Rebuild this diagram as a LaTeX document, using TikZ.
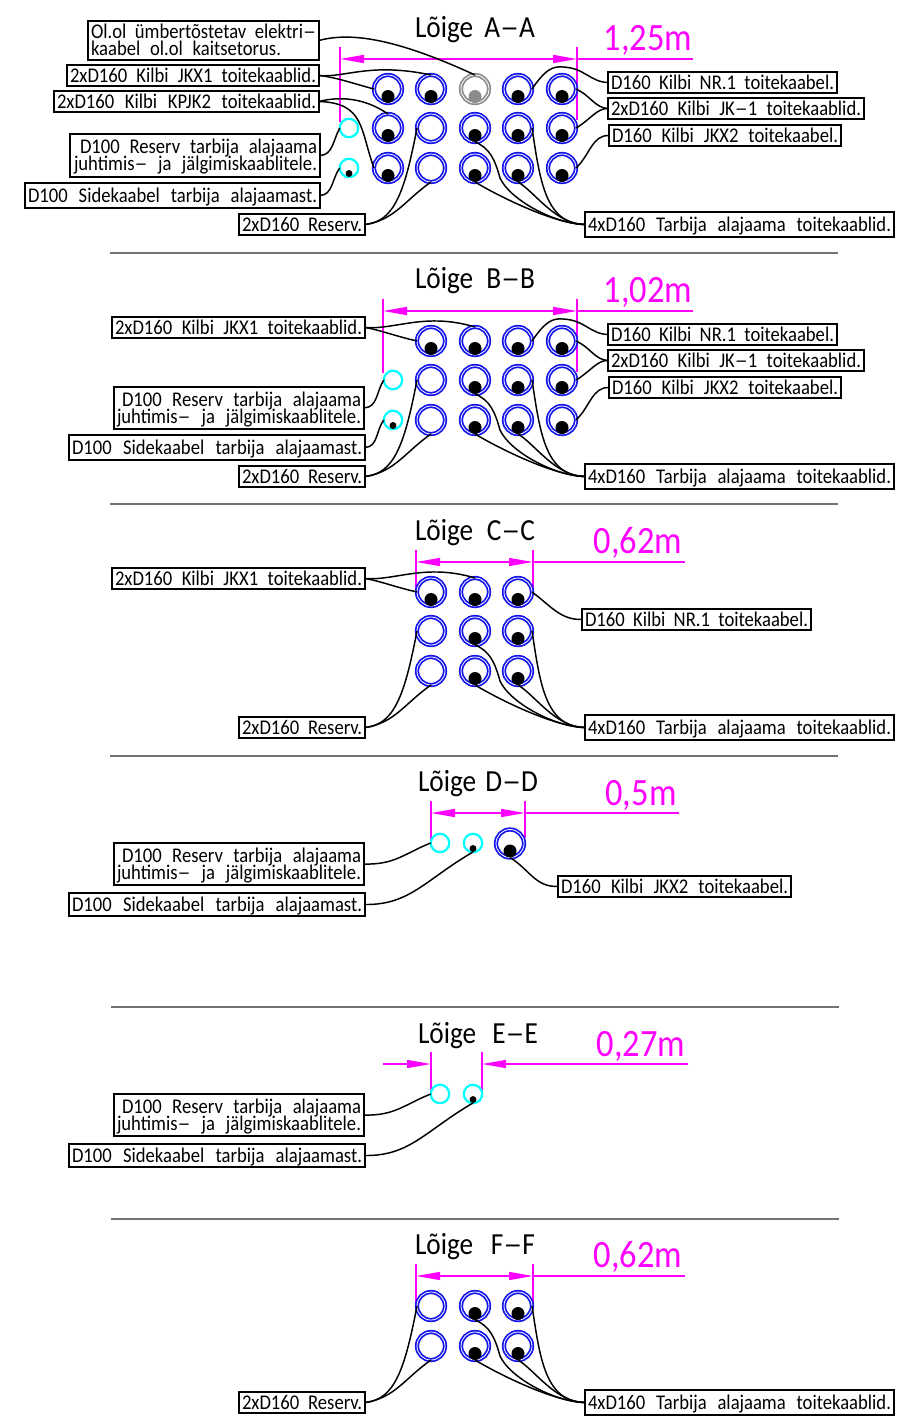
\documentclass[tikz,border=0pt]{standalone}
\usepackage{fontspec}
\usepackage{graphicx}
\usetikzlibrary{arrows.meta}
\newfontfamily\cad[FakeStretch=0.89]{Carlito}
\newcommand\dsh{\scalebox{1.4}[1]{–}}
\definecolor{dimmag}{RGB}{255,0,255}
\definecolor{ringcyan}{RGB}{0,255,255}
\definecolor{ringblue}{RGB}{20,20,235}
\definecolor{ringgray}{RGB}{140,140,140}
\tikzset{
  conn/.style={draw=black,line width=1.1pt},
  labbox/.style={draw=black,line width=1.3pt,fill=white,inner sep=0pt,outer sep=0pt,font=\cad\fontsize{15.7}{15.7}\selectfont,text height=10.1pt,text depth=0pt},
  labbox2/.style={labbox,text height=22.85pt},
  ttl/.style={inner sep=0pt,font=\cad\fontsize{23}{23}\selectfont,text height=15pt,text depth=0pt},
  val/.style={inner sep=0pt,text=dimmag,font=\cad\fontsize{29}{29}\selectfont,text height=18.7pt,text depth=0pt},
  ductring/.style={circle,draw=ringblue,line width=1.3pt,double=white,double distance=0.6pt,minimum size=21pt,inner sep=0pt,outer sep=0pt},
  ductgray/.style={ductring,draw=ringgray},
  cyanring/.style={circle,draw=ringcyan,line width=1.65pt,minimum size=13.8pt,inner sep=0pt,outer sep=0pt},
  cable/.style={circle,fill=black,minimum size=9.75pt,inner sep=0pt,outer sep=0pt},
  cablegray/.style={cable,fill=ringgray},
  thin cable/.style={circle,fill=black,minimum size=5.2pt,inner sep=0pt,outer sep=0pt},
  dimline/.style={draw=dimmag,line width=1.1pt},
  dimarrows/.style={dimline,{Triangle[length=18pt,width=6pt]}-{Triangle[length=18pt,width=6pt]}},
  dimarrow/.style={dimline,-{Triangle[length=18pt,width=6pt]}},
  rulex/.style={draw=black!55,line width=0.9pt}
}
% one-line box: name, x1,y1,x2,y2, text
\newcommand\lab[6]{%
  \node[labbox,minimum width={(#4-#2)*0.75pt},minimum height={(#5-#3)*0.75pt}] (#1) at ({(#2+#4)/2},{(#3+#5)/2})
    {\makebox[\dimexpr #4pt*3/4 - #2pt*3/4 - 4.5pt\relax][s]{#6}};}
% two-line box: name, x1,y1,x2,y2, lines
\newcommand\labtwo[6]{%
  \node[labbox2,minimum width={(#4-#2)*0.75pt},minimum height={(#5-#3)*0.75pt}] (#1) at ({(#2+#4)/2},{(#3+#5)/2})
    {\vbox{\baselineskip=12.75pt\lineskiplimit=-100pt\hsize=\dimexpr #4pt*3/4 - #2pt*3/4 - 4.5pt\relax #6}};}
\newcommand\rln[2]{\hbox to \hsize{\hfill\makebox[\dimexpr #1pt*3/4\relax][s]{#2}}}
\newcommand\lln[2]{\hbox to \hsize{\makebox[\dimexpr #1pt*3/4\relax][s]{#2}\hfill}}
\newcommand\ttlnode[4]{\node[ttl] (#1) at (#2,#3) {\makebox[90pt][s]{#4}};}
% ducts
\newcommand\ductE[3]{\node[ductring] (#1) at (#2,#3) {};}
\newcommand\ductF[3]{\node[ductring] (#1) at (#2,#3) {};\node[cable] (#1c) at (#2,#3+7.5) {};}
\newcommand\cyanE[3]{\node[cyanring] (#1) at (#2,#3) {};}
\newcommand\cyanF[3]{\node[cyanring] (#1) at (#2,#3) {};\node[thin cable] (#1c) at (#2,#3+5.5) {};}
% lower block: rows 128/168, columns 431/475/518, reserve and 4xD160 boxes
\newcommand\lowerblock[1]{%
  \ductE{#1-22}{431}{128}\ductF{#1-23}{475}{128}\ductF{#1-24}{518}{128}
  \ductE{#1-32}{431}{168}\ductF{#1-33}{475}{168}\ductF{#1-34}{518}{168}
  \lab{#1-res}{239}{214}{365}{235}{2xD160 Reserv.}
  \lab{#1-four}{585}{212}{894}{237}{4xD160 Tarbija alajaama toitekaablid.}
  \draw[conn] (#1-res.east) .. controls (395,222) and (405,190) .. (#1-22.west);
  \draw[conn] (#1-res.east) .. controls (395,220) and (405,200) .. (#1-32.south);
  \draw[conn] (#1-23.south) .. controls (490,148) and (495,160) .. (500,178) .. controls (510,200) and (555,224) .. (#1-four.west);
  \draw[conn] (#1-33.south) .. controls (500,197) and (555,224) .. (#1-four.west);
  \draw[conn] (#1-34.south) .. controls (535,192) and (555,224) .. (#1-four.west);
  \draw[conn] (#1-24.east) .. controls (540,180) and (545,224) .. (#1-four.west);
}
% right block for sections A and B
\newcommand\rightblock[1]{%
  \ductF{#1-14}{518}{89}\ductF{#1-15}{562}{89}\ductF{#1-25}{562}{128}\ductF{#1-35}{562}{168}
  \lab{#1-nr}{608}{72}{837}{93}{D160 Kilbi NR.1 toitekaabel.}
  \lab{#1-jk}{608}{98}{864}{119}{2xD160 Kilbi JK\dsh1 toitekaablid.}
  \lab{#1-jkx}{609}{125}{841}{146}{D160 Kilbi JKX2 toitekaabel.}
  \draw[conn] (#1-14.east) .. controls (545,70) and (552,66) .. (563,67) .. controls (585,68) and (590,82) .. (#1-nr.west);
  \draw[conn] (#1-15.east) .. controls (590,95) and (595,108) .. (#1-jk.west);
  \draw[conn] (#1-25.east) .. controls (590,120) and (597,108) .. (#1-jk.west);
  \draw[conn] (#1-35.east) .. controls (590,155) and (592,135) .. (#1-jkx.west);
}
% D100 pair, sections D and E (local coordinates of section D)
\newcommand\pairblock[1]{%
  \cyanE{#1-r}{440}{843}\cyanF{#1-s}{473}{843}
  \labtwo{#1-bres}{114}{843}{364}{885}{\rln{239}{D100 Reserv tarbija alajaama}\rln{244}{juhtimis\dsh{} ja jälgimiskaablitele.}}
  \lab{#1-bsid}{69}{893}{365}{916}{D100 Sidekaabel tarbija alajaamast.}
  \draw[conn] (#1-bres.east) .. controls (395,865) and (405,853) .. (#1-r.west);
  \draw[conn] (#1-bsid.east) .. controls (410,905) and (425,880) .. (#1-sc.south);
}
\begin{document}
\begin{tikzpicture}[x=0.75pt,y=-0.75pt]
\useasboundingbox (0,0) rectangle (918,1428);
\fill[white] (0,0) rectangle (918,1428);

% rules
\coordinate (ra1) at (110,253);\coordinate (ra2) at (838,253);
\coordinate (rb1) at (110,504);\coordinate (rb2) at (838,504);
\coordinate (rc1) at (110,756);\coordinate (rc2) at (838,756);
\coordinate (rd1) at (111,1007);\coordinate (rd2) at (839,1007);
\coordinate (re1) at (111,1219);\coordinate (re2) at (839,1219);
\draw[rulex] (ra1)--(ra2);\draw[rulex] (rb1)--(rb2);\draw[rulex] (rc1)--(rc2);\draw[rulex] (rd1)--(rd2);\draw[rulex] (re1)--(re2);

% ---------- Section A
\ttlnode{ta}{475}{27}{Lõige A\dsh{}A}
\node[val] (va) at (648,38) {1,25m};
\coordinate (da1) at (340,59);\coordinate (da2) at (577,59);\coordinate (da3) at (693,59);
\coordinate (dat1) at (340,47);\coordinate (dab1) at (340,122);
\coordinate (dat2) at (577,47);\coordinate (dab2) at (577,120);
\draw[dimline] (dat1)--(dab1);\draw[dimline] (dat2)--(dab2);\draw[dimline] (da2)--(da3);
\draw[dimarrows] (da1)--(da2);
\ductF{a-11}{388}{89}\ductF{a-12}{431}{89}
\node[ductgray] (a-13) at (475,89) {};\node[cablegray] (a-13c) at (475,96.5) {};
\ductF{a-21}{388}{128}\ductF{a-31}{388}{168}
\cyanE{a-r}{349}{128}\cyanF{a-s}{349}{168}
\lowerblock{a}
\rightblock{a}
\labtwo{a-ol}{88}{21}{319}{60}{\lln{225}{Ol.ol ümbertõstetav elektri\dsh}\lln{190}{kaabel ol.ol kaitsetorus.}}
\lab{a-jkx1}{67}{65}{319}{86}{2xD160 Kilbi JKX1 toitekaablid.}
\lab{a-kpjk}{54}{91}{319}{112}{2xD160 Kilbi KPJK2 toitekaablid.}
\labtwo{a-bres}{70}{134}{320}{177}{\rln{237}{D100 Reserv tarbija alajaama}\rln{243}{juhtimis\dsh{} ja jälgimiskaablitele.}}
\lab{a-bsid}{25}{183}{320}{208}{D100 Sidekaabel tarbija alajaamast.}
\draw[conn] (a-ol.east) .. controls (350,32) and (395,38) .. (a-13.north);
\draw[conn] (a-jkx1.east) .. controls (335,77) and (355,84) .. (a-11.west);
\draw[conn] (a-jkx1.east) .. controls (345,78) and (370,62) .. (a-12.north);
\draw[conn] (a-kpjk.east) .. controls (340,96) and (365,98) .. (a-21.north);
\draw[conn] (a-kpjk.east) .. controls (365,103) and (360,130) .. (a-31.west);
\draw[conn] (a-bres.east) .. controls (333,155) and (333,140) .. (a-r.west);
\draw[conn] (a-bsid.east) .. controls (333,195) and (332,178) .. (a-s.west);

% ---------- Section B
\ttlnode{tb}{475}{278}{Lõige B\dsh{}B}
\node[val] (vb) at (648,290) {1,02m};
\coordinate (db1) at (383,311);\coordinate (db2) at (577,311);\coordinate (db3) at (693,311);
\coordinate (dbt1) at (383,299);\coordinate (dbb1) at (383,373);
\coordinate (dbt2) at (577,299);\coordinate (dbb2) at (577,372);
\draw[dimline] (dbt1)--(dbb1);\draw[dimline] (dbt2)--(dbb2);\draw[dimline] (db2)--(db3);
\draw[dimarrows] (db1)--(db2);
\begin{scope}[shift={(0,252)}]
\ductF{b-12}{431}{89}\ductF{b-13}{475}{89}
\cyanE{b-r}{393}{128}\cyanF{b-s}{393}{168}
\lowerblock{b}
\rightblock{b}
\lab{b-jkx1}{112}{65}{365}{86}{2xD160 Kilbi JKX1 toitekaablid.}
\labtwo{b-bres}{114}{135}{364}{177}{\rln{239}{D100 Reserv tarbija alajaama}\rln{244}{juhtimis\dsh{} ja jälgimiskaablitele.}}
\lab{b-bsid}{69}{183}{365}{208}{D100 Sidekaabel tarbija alajaamast.}
\draw[conn] (b-jkx1.east) .. controls (380,78) and (395,84) .. (b-12.west);
\draw[conn] (b-jkx1.east) .. controls (395,78) and (425,60) .. (b-13.north);
\draw[conn] (b-bres.east) .. controls (378,155) and (376,140) .. (b-r.west);
\draw[conn] (b-bsid.east) .. controls (378,195) and (376,178) .. (b-s.west);
\end{scope}

% ---------- Section C
\ttlnode{tc}{475}{530}{Lõige C\dsh{}C}
\node[val] (vc) at (638,541) {0,62m};
\coordinate (dc1) at (416,562);\coordinate (dc2) at (533,562);\coordinate (dc3) at (685,562);
\coordinate (dct1) at (416,550);\coordinate (dcb1) at (416,590);
\coordinate (dct2) at (533,550);\coordinate (dcb2) at (533,592);
\draw[dimline] (dct1)--(dcb1);\draw[dimline] (dct2)--(dcb2);\draw[dimline] (dc2)--(dc3);
\draw[dimarrows] (dc1)--(dc2);
\begin{scope}[shift={(0,503)}]
\ductF{c-12}{431}{89}\ductF{c-13}{475}{89}\ductF{c-14}{518}{89}
\lowerblock{c}
\lab{c-jkx1}{112}{65}{365}{86}{2xD160 Kilbi JKX1 toitekaablid.}
\lab{c-nr}{582}{106}{811}{127}{D160 Kilbi NR.1 toitekaabel.}
\draw[conn] (c-jkx1.east) .. controls (380,78) and (395,84) .. (c-12.west);
\draw[conn] (c-jkx1.east) .. controls (395,78) and (425,60) .. (c-13.north);
\draw[conn] (c-14.east) .. controls (550,102) and (560,117) .. (c-nr.west);
\end{scope}

% ---------- Section D
\ttlnode{td}{478}{781}{Lõige D\dsh{}D}
\node[val] (vd) at (641,793) {0,5m};
\coordinate (dd1) at (431,813);\coordinate (dd2) at (525,813);\coordinate (dd3) at (679,813);
\coordinate (ddt1) at (431,801);\coordinate (ddb1) at (431,842);
\coordinate (ddt2) at (525,801);\coordinate (ddb2) at (525,838);
\draw[dimline] (ddt1)--(ddb1);\draw[dimline] (ddt2)--(ddb2);\draw[dimline] (dd2)--(dd3);
\draw[dimarrows] (dd1)--(dd2);
\pairblock{d}
\ductF{d-b}{510}{843.5}
\lab{d-jkx}{558}{876}{791}{897}{D160 Kilbi JKX2 toitekaabel.}
\draw[conn] (d-b.south) .. controls (530,870) and (535,887) .. (d-jkx.west);

% ---------- Section E
\ttlnode{te}{478}{1033}{Lõige E\dsh{}E}
\node[val] (ve) at (641,1044) {0,27m};
\coordinate (de0) at (383,1064);\coordinate (de1) at (431,1064);\coordinate (de2) at (482,1064);\coordinate (de3) at (688,1064);
\coordinate (det1) at (431,1052);\coordinate (deb1) at (431,1092);
\coordinate (det2) at (482,1052);\coordinate (deb2) at (482,1092);
\draw[dimline] (det1)--(deb1);\draw[dimline] (det2)--(deb2);
\draw[dimarrow] (de0)--(de1);\draw[dimarrow] (de3)--(de2);
\begin{scope}[shift={(0,251)}]
\pairblock{e}
\end{scope}

% ---------- Section F
\ttlnode{tf}{475}{1244}{Lõige F\dsh{}F}
\node[val] (vf) at (638,1255) {0,62m};
\coordinate (df1) at (416,1276);\coordinate (df2) at (533,1276);\coordinate (df3) at (685,1276);
\coordinate (dft1) at (416,1264);\coordinate (dfb1) at (416,1305);
\coordinate (dft2) at (533,1264);\coordinate (dfb2) at (533,1306);
\draw[dimline] (dft1)--(dfb1);\draw[dimline] (dft2)--(dfb2);\draw[dimline] (df2)--(df3);
\draw[dimarrows] (df1)--(df2);
\begin{scope}[shift={(0,1178)}]
\lowerblock{f}
\end{scope}
\end{tikzpicture}
\end{document}
